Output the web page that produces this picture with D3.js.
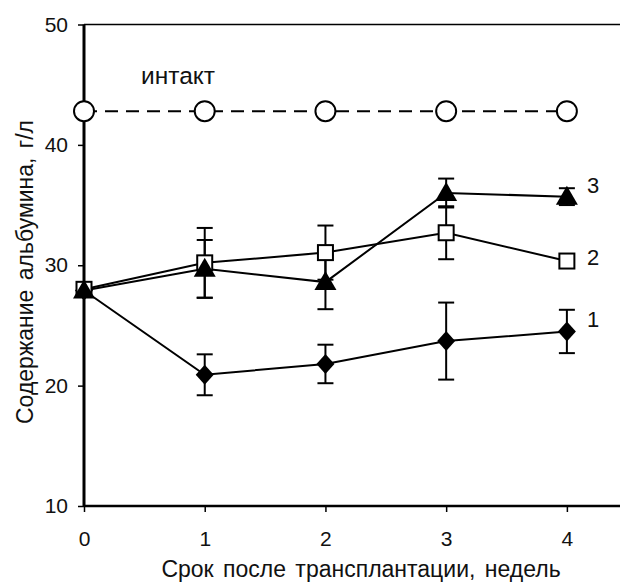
<!DOCTYPE html>
<html>
<head>
<meta charset="utf-8">
<script src="https://cdn.jsdelivr.net/npm/d3@7"></script>
<style>
  body { margin: 0; background: #fff; }
  text { font-family: "Liberation Sans", Arial, sans-serif; fill: #111; }
</style>
</head>
<body>
<script>
(function(){

    //data
    var weeks = [0, 1, 2, 3, 4];
    var intact = [42.8, 42.8, 42.8, 42.8, 42.8];
    var s1 = [27.9, 20.9, 21.8, 23.7, 24.5];
    var s1err = [0, 1.7, 1.6, 3.2, 1.8];
    var s2 = [28.0, 30.2, 31.05, 32.7, 30.35];
    var s2err = [0, 2.9, 2.25, 2.2, 0];
    var s3 = [27.9, 29.7, 28.6, 36.0, 35.7];
    var s3err = [0, 2.4, 2.25, 1.2, 0.7];
    var yTicks = [10, 20, 30, 40, 50];
    var seriesLabels = ["1", "2", "3"];

    var width = 620, height = 582;

    var svg = d3.select("body").append("svg")
        .attr("width", width)
        .attr("height", height);

    //scales
    var x = d3.scaleLinear().domain([0, 4.44]).range([84, 620]);
    var y = d3.scaleLinear().domain([10, 50]).range([506, 24.5]);

    //top frame line
    svg.append("line")
        .attr("x1", x(0)).attr("x2", x(4.44))
        .attr("y1", y(50)).attr("y2", y(50))
        .attr("stroke", "#000").attr("stroke-width", 1.5);

    //axes
    var yAxis = svg.append("g")
        .attr("transform", "translate(" + x(0) + ",0)")
        .call(d3.axisLeft(y).tickValues(yTicks).tickSize(6).tickPadding(10).tickFormat(d3.format("d")));
    yAxis.select(".domain").remove();
    yAxis.selectAll(".tick line").attr("stroke-width", 1.5);
    yAxis.selectAll("text").attr("font-size", 21).style("font-family", "Liberation Sans, Arial, sans-serif");

    var xAxis = svg.append("g")
        .attr("transform", "translate(0," + y(10) + ")")
        .call(d3.axisBottom(x).tickValues(weeks).tickSize(6).tickPadding(19).tickFormat(d3.format("d")));
    xAxis.select(".domain").remove();
    xAxis.selectAll(".tick line").attr("stroke-width", 1.5);
    xAxis.selectAll("text").attr("font-size", 21).style("font-family", "Liberation Sans, Arial, sans-serif");

    svg.append("line")
        .attr("x1", x(0)).attr("x2", x(4.44))
        .attr("y1", y(10)).attr("y2", y(10))
        .attr("stroke", "#000").attr("stroke-width", 2.5);
    svg.append("line")
        .attr("x1", x(0)).attr("x2", x(0))
        .attr("y1", y(50)).attr("y2", y(10) + 1)
        .attr("stroke", "#000").attr("stroke-width", 3);

    //axis titles
    svg.append("text")
        .attr("x", 361).attr("y", 577)
        .attr("text-anchor", "middle")
        .attr("font-size", 23)
        .attr("word-spacing", 3)
        .text("Срок после трансплантации, недель");

    svg.append("text")
        .attr("transform", "translate(33,272) rotate(-90)")
        .attr("text-anchor", "middle")
        .attr("font-size", 23)
        .attr("word-spacing", 3)
        .text("Содержание альбумина, г/л");

    var line = d3.line()
        .x(function(d, i){ return x(weeks[i]); })
        .y(function(d){ return y(d); });

    //error bars
    function errorBars(vals, errs){
        var g = svg.append("g").attr("stroke", "#000").attr("stroke-width", 2);
        weeks.forEach(function(w, i){
            if (!errs[i]) return;
            var cx = x(w);
            g.append("line").attr("x1", cx).attr("x2", cx)
                .attr("y1", y(vals[i] + errs[i])).attr("y2", y(vals[i] - errs[i]));
            [vals[i] + errs[i], vals[i] - errs[i]].forEach(function(v){
                g.append("line").attr("x1", cx - 8).attr("x2", cx + 8)
                    .attr("y1", y(v)).attr("y2", y(v));
            });
        });
    }
    errorBars(s1, s1err);
    errorBars(s2, s2err);
    errorBars(s3, s3err);

    //intact dashed line
    svg.append("path")
        .datum(intact)
        .attr("d", line)
        .attr("fill", "none")
        .attr("stroke", "#000")
        .attr("stroke-width", 2)
        .attr("stroke-dasharray", "13,8");

    [s1, s2, s3].forEach(function(s){
        svg.append("path")
            .datum(s)
            .attr("d", line)
            .attr("fill", "none")
            .attr("stroke", "#000")
            .attr("stroke-width", 2);
    });

    //markers
    svg.selectAll(".circ").data(intact).enter().append("circle")
        .attr("cx", function(d, i){ return x(weeks[i]); })
        .attr("cy", function(d){ return y(d); })
        .attr("r", 10)
        .attr("fill", "#fff").attr("stroke", "#000").attr("stroke-width", 2);

    svg.selectAll(".diam").data(s1).enter().append("path")
        .attr("transform", function(d, i){ return "translate(" + x(weeks[i]) + "," + y(d) + ")"; })
        .attr("d", "M0,-10L9,0L0,10L-9,0Z")
        .attr("fill", "#000");

    svg.selectAll(".sq").data(s2).enter().append("rect")
        .attr("x", function(d, i){ return x(weeks[i]) - 7.5; })
        .attr("y", function(d){ return y(d) - 7.5; })
        .attr("width", 15).attr("height", 15)
        .attr("fill", "#fff").attr("stroke", "#000").attr("stroke-width", 2);

    svg.selectAll(".tri").data(s3).enter().append("path")
        .attr("transform", function(d, i){ return "translate(" + x(weeks[i]) + "," + y(d) + ")"; })
        .attr("d", "M0,-11L11,8L-11,8Z")
        .attr("fill", "#000");

    //labels
    svg.append("text").attr("x", 141).attr("y", 84).attr("font-size", 24.5).text("интакт");
    var lastVals = [s1[4], s2[4], s3[4]];
    var labelDy = [-4.5, 4, -4];
    seriesLabels.forEach(function(t, i){
        svg.append("text")
            .attr("x", x(4) + 20)
            .attr("y", y(lastVals[i]) + labelDy[i])
            .attr("font-size", 22)
            .text(t);
    });

})();
</script>
</body>
</html>
